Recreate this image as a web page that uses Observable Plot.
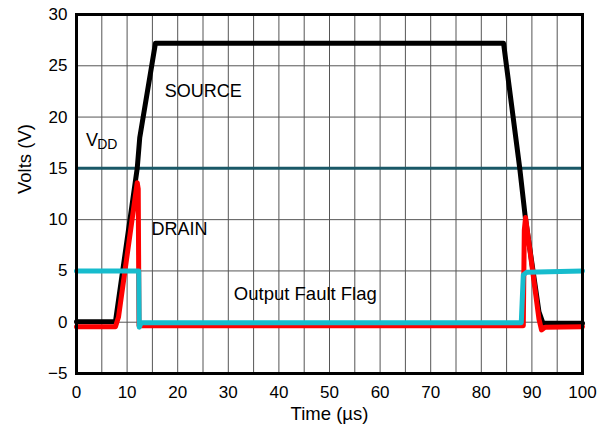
<!DOCTYPE html>
<html>
<head>
<meta charset="utf-8">
<script src="https://cdn.jsdelivr.net/npm/d3@7"></script>
<script src="https://cdn.jsdelivr.net/npm/@observablehq/plot@0.6"></script>
<style>
  html, body { margin: 0; padding: 0; background: #fff; }
  svg { display: block; }
</style>
</head>
<body>
<div id="chart"></div>
<script>
// Axis ticks
const xTicks = [0, 10, 20, 30, 40, 50, 60, 70, 80, 90, 100];
const yTicks = [-5, 0, 5, 10, 15, 20, 25, 30];
const xGrid = [5, 10, 15, 20, 25, 30, 35, 40, 45, 50, 55, 60, 65, 70, 75, 80, 85, 90, 95];
const yGrid = [0, 5, 10, 20, 25];

// VDD level
const vdd = 15;

// SOURCE trace (black)
const sourceT = [0, 7.7, 12.0, 12.5, 15.6, 84.4, 87.6, 88.7, 91.4, 92.2, 100];
const sourceV = [0.05, 0.05, 15, 18, 27.2, 27.2, 15, 10.2, 1.0, -0.1, -0.1];

// DRAIN trace (red)
const drainT = [0, 7.7, 8.3, 12.0, 12.2, 12.35, 88.3, 88.5, 88.75, 91.4, 91.9, 92.6, 100];
const drainV = [-0.45, -0.45, 0.5, 13.6, 13.0, -0.35, -0.35, 9.0, 10.2, 0.3, -0.75, -0.5, -0.45];

// Output Fault Flag trace (cyan)
const flagT = [0, 12.3, 12.4, 12.8, 87.9, 88.3, 89.0, 100];
const flagV = [5.0, 5.0, -0.5, -0.05, -0.05, 4.6, 4.88, 5.0];

const source = sourceT.map((t, i) => ({t, v: sourceV[i]}));
const drain = drainT.map((t, i) => ({t, v: drainV[i]}));
const flag = flagT.map((t, i) => ({t, v: flagV[i]}));

const labels = [
  {t: 17.45, v: 22.5, text: "SOURCE", size: 18},
  {t: 14.8, v: 9.1, text: "DRAIN", size: 18},
  {t: 31.1, v: 2.77, text: "Output Fault Flag", size: 18.5},
  {t: 1.9, v: 17.76, text: "V", size: 18},
  {t: 4.1, v: 17.3, text: "DD", size: 14}
];

const chart = Plot.plot({
  width: 608,
  height: 430,
  marginLeft: 76,
  marginRight: 26,
  marginTop: 14,
  marginBottom: 57,
  style: {fontFamily: "'Liberation Sans', Arial, sans-serif", fontSize: "17px", color: "#000", background: "#fff"},
  x: {domain: [0, 100]},
  y: {domain: [-5, 30]},
  marks: [
    Plot.ruleX(xGrid, {x: d => d, stroke: "#555", strokeWidth: 1}),
    Plot.ruleY(yGrid, {y: d => d, stroke: "#555", strokeWidth: 1}),
    Plot.ruleY([vdd], {y: d => d, stroke: "#1a5867", strokeWidth: 3}),
    Plot.line(source, {x: "t", y: "v", stroke: "#000", strokeWidth: 5, strokeLinejoin: "round"}),
    Plot.line(drain, {x: "t", y: "v", stroke: "#ff0000", strokeWidth: 5, strokeLinejoin: "round"}),
    Plot.line(flag, {x: "t", y: "v", stroke: "#16bccd", strokeWidth: 5, strokeLinejoin: "round"}),
    Plot.frame({stroke: "#000", strokeWidth: 3}),
    Plot.axisX({ticks: xTicks, tickSize: 0, tickPadding: 12, label: null, fontSize: 17}),
    Plot.axisY({ticks: yTicks, tickSize: 0, tickPadding: 9, label: null, fontSize: 17}),
    Plot.text(["Time (µs)"], {frameAnchor: "bottom", dy: 46.5, fontSize: 18.5, fill: "#000"}),
    Plot.text(["Volts (V)"], {frameAnchor: "left", dx: -51, rotate: -90, fontSize: 18.5, fill: "#000"}),
    Plot.text(labels, {x: "t", y: "v", text: "text", fontSize: d => d.size, textAnchor: "start", fill: "#000"})
  ]
});
document.getElementById("chart").append(chart);
</script>
</body>
</html>
